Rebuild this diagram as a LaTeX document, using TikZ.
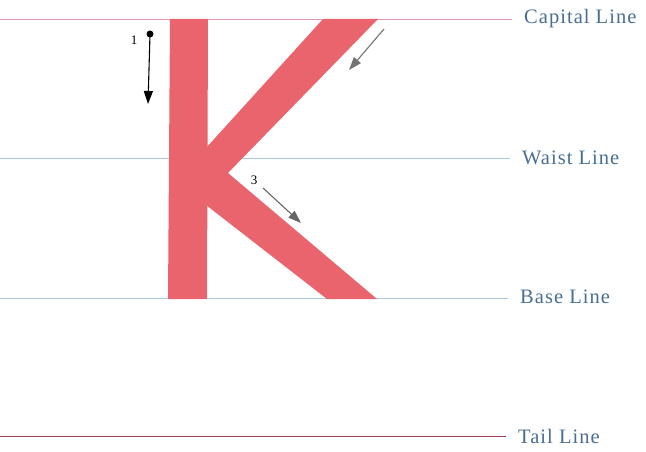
\documentclass[tikz,border=0pt]{standalone}
\usepackage{fontspec}
\setmainfont{Liberation Serif}
\usepackage{tikz}
\usetikzlibrary{arrows.meta,positioning}

\definecolor{kred}{RGB}{233,100,108}
\definecolor{capline}{RGB}{222,150,172}
\definecolor{guideblue}{RGB}{170,200,224}
\definecolor{tailred}{RGB}{160,60,80}
\definecolor{labelblue}{RGB}{72,110,145}

\begin{document}
\begin{tikzpicture}[
    x=1pt, y=-1pt,
    guideline/.style={line width=0.9pt},
    linelabel/.style={anchor=west, inner sep=0pt, text=labelblue,
        font=\fontsize{20.5}{20.5}\selectfont\addfontfeatures{LetterSpace=5}},
    strokearrow/.style={-{Triangle[length=13pt,width=9pt]}, line width=1.1pt},
    numlabel/.style={inner sep=0pt, font=\fontsize{13}{13}\selectfont}
]
\useasboundingbox (0,0) rectangle (646,452);

% guide lines
\coordinate (capL) at (0,19);   \coordinate (capR) at (512,19);
\coordinate (waistL) at (0,158); \coordinate (waistR) at (510,158);
\coordinate (baseL) at (0,298);  \coordinate (baseR) at (508,298);
\coordinate (tailL) at (0,436);  \coordinate (tailR) at (506,436);

\draw[guideline, capline] (capL) -- (capR);
\draw[guideline, guideblue] (waistL) -- (waistR);
\draw[guideline, guideblue] (baseL) -- (baseR);
\draw[guideline, tailred] (tailL) -- (tailR);

\node[linelabel] (cap) at (524,19) {Capital Line};
\node[linelabel] (waist) at (522,158) {Waist Line};
\node[linelabel] (base) at (520,297) {Base Line};
\node[linelabel] (tail) at (518,436) {Tail Line};

% the letter K
\fill[kred] (170,19) -- (208,19) -- (207,299) -- (168,299) -- cycle;
\fill[kred] (323,19) -- (378,19) -- (228,173) -- (377,299) -- (327,299)
    -- (206,205) -- (206,148) -- cycle;

% stroke order arrows
\coordinate (oneA) at (150,34);  \coordinate (oneB) at (148,104);
\coordinate (twoA) at (384,29);  \coordinate (twoB) at (349,70);
\coordinate (threeA) at (263,188); \coordinate (threeB) at (301,223);

\fill (oneA) circle (3.5pt);
\draw[strokearrow] (oneA) -- (oneB);
\node[numlabel] (one) at (134,40) {1};

\draw[strokearrow, black!55] (twoA) -- (twoB);

\draw[strokearrow, black!60] (threeA) -- (threeB);
\node[numlabel] (three) at (254,180) {3};
\end{tikzpicture}
\end{document}
